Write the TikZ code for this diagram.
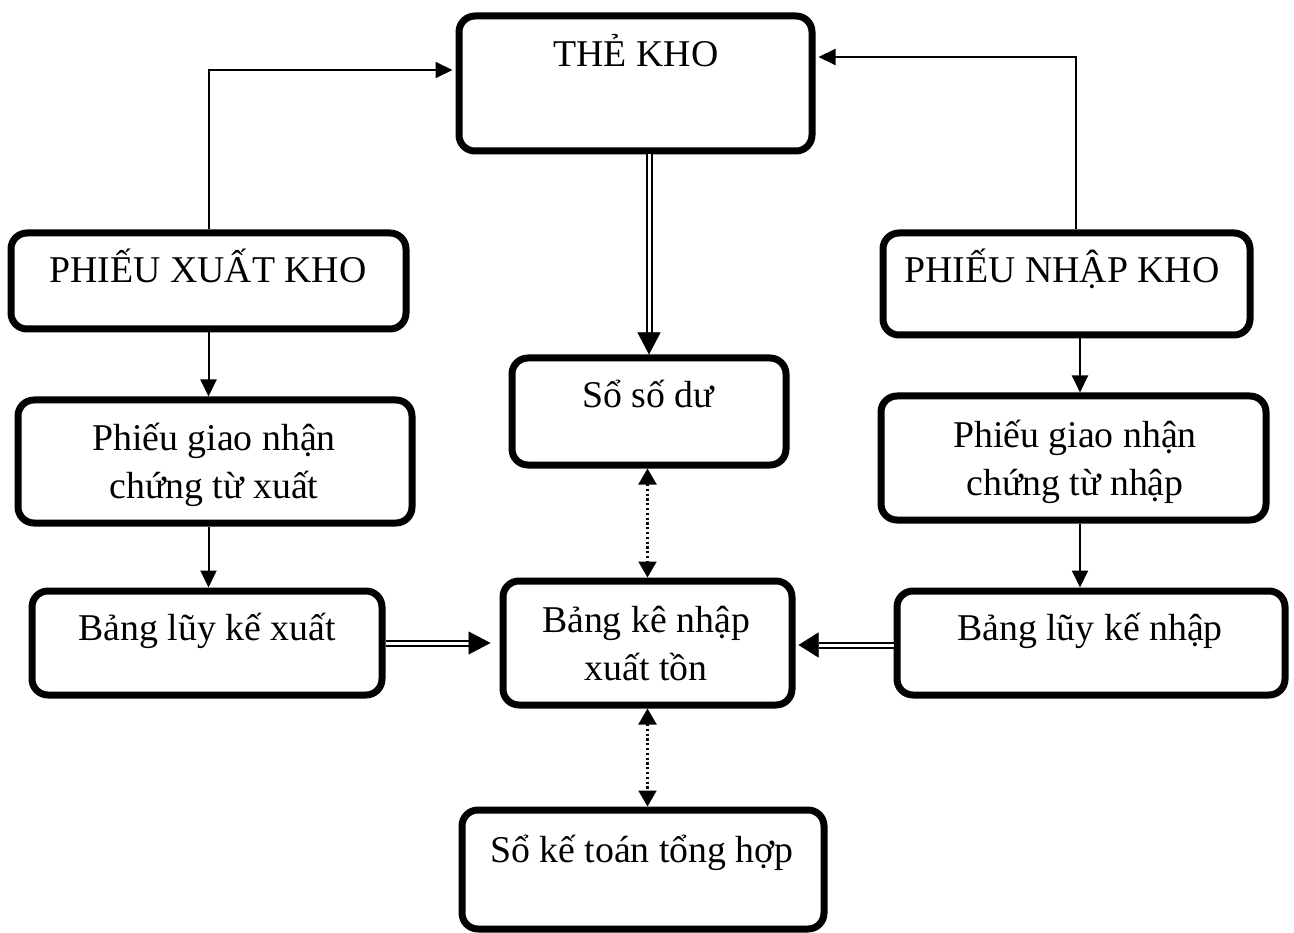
\documentclass[tikz,border=0pt]{standalone}
\usepackage{fontspec}
\setmainfont{Liberation Serif}
\usetikzlibrary{arrows.meta}

\begin{document}
\begin{tikzpicture}[x=1pt,y=-1pt,
  box/.style={draw, line width=7pt, rounded corners=16pt, inner sep=0pt},
  lbl/.style={font=\fontsize{37.8}{48}\selectfont, align=center, anchor=base, inner sep=0pt},
  arr/.style={line width=2pt, -{Triangle[length=17pt,width=16pt]}},
  dbl/.style={double, line width=2pt, double distance=3pt},
  dblhead/.style={line width=0.5pt, -{Triangle[length=22pt,width=23pt]}},
  dots/.style={line width=2.2pt, dash pattern=on 2.2pt off 2.6pt,
    {Triangle[length=16pt,width=18pt]}-{Triangle[length=16pt,width=18pt]}},
]
\useasboundingbox (0,0) rectangle (1294,933);

% boxes
\node[box, minimum width=353pt, minimum height=135pt] (tk)  at (635.5,83.5) {};
\node[box, minimum width=395pt, minimum height=96pt]  (pxk) at (208.5,281) {};
\node[box, minimum width=367pt, minimum height=102pt] (pnk) at (1066.5,284) {};
\node[box, minimum width=274pt, minimum height=107pt] (ssd) at (649,411.5) {};
\node[box, minimum width=394pt, minimum height=123pt] (pgx) at (215,461.5) {};
\node[box, minimum width=385pt, minimum height=124pt] (pgn) at (1073.5,458) {};
\node[box, minimum width=350pt, minimum height=104pt] (blx) at (207,643) {};
\node[box, minimum width=289pt, minimum height=124pt] (bk)  at (647.5,643) {};
\node[box, minimum width=388pt, minimum height=104pt] (bln) at (1091,643) {};
\node[box, minimum width=362pt, minimum height=119pt] (skt) at (643,869.5) {};

% labels (anchor is the baseline of the last line)
\node[lbl] (tkt)  at (636,67)   {THẺ KHO};
\node[lbl] (pxkt) at (208,283)  {PHIẾU XUẤT KHO};
\node[lbl] (pnkt) at (1062,283) {PHIẾU NHẬP KHO};
\node[lbl] (ssdt) at (648,408)  {Sổ số dư};
\node[lbl] (pgxt) at (214,498)  {Phiếu giao nhận\\chứng từ xuất};
\node[lbl] (pgnt) at (1075,495) {Phiếu giao nhận\\chứng từ nhập};
\node[lbl] (blxt) at (207,640)  {Bảng lũy kế xuất};
\node[lbl] (bkt)  at (646,680)  {Bảng kê nhập\\xuất tồn};
\node[lbl] (blnt) at (1090,640) {Bảng lũy kế nhập};
\node[lbl] (sktt) at (642,862)  {Sổ kế toán tổng hợp};

% slips up to the stock card
\draw[arr] (pxk.north) |- ([xshift=-3pt,yshift=13.5pt]tk.west);
\draw[arr] ([xshift=9.5pt]pnk.north) |- ([xshift=3pt,yshift=26.5pt]tk.east);

% left column
\draw[arr] (pxk.south) -- (pxk.south |- pgx.north);
\draw[arr] (pxk.south |- pgx.south) -- (pxk.south |- blx.north);

% right column
\coordinate (rc) at ([xshift=13.5pt]pnk.south);
\draw[arr] (rc) -- (rc |- pgn.north);
\draw[arr] (rc |- pgn.south) -- (rc |- bln.north);

% stock card to balance book
\draw[dbl, shorten >=20pt] (tk.south -| ssd.north) -- (ssd.north);
\draw[dblhead] ([yshift=22pt]ssd.north) -- (ssd.north);

% cumulative tables into the summary
\draw[dbl, shorten >=22pt] (blx.east) -- ([xshift=-9pt]bk.west);
\draw[dblhead] ([xshift=-31pt]bk.west) -- ([xshift=-9pt]bk.west);
\draw[dbl, shorten >=20pt] ([yshift=-2pt]bln.west) -- ([xshift=3pt,yshift=-2pt]bk.east);
\draw[line width=0.5pt, -{Triangle[length=20pt,width=25pt]}] ([xshift=23pt,yshift=-2pt]bk.east) -- ([xshift=3pt,yshift=-2pt]bk.east);

% reconciliation links
\draw[dots] (ssd.south -| bk.north) -- (bk.north);
\draw[dots] (bk.south) -- (bk.south |- skt.north);
\end{tikzpicture}
\end{document}
